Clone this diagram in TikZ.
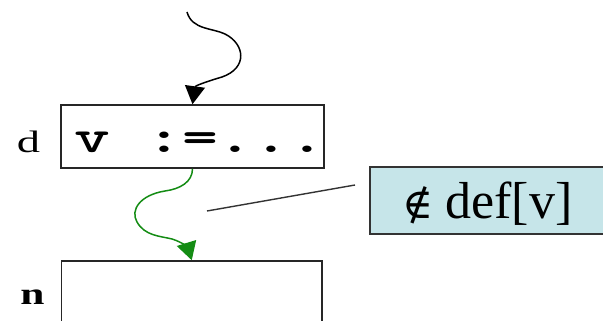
\documentclass[tikz,border=0pt]{standalone}
\usepackage{fontspec}
\setmainfont{Liberation Serif}
\newfontfamily\codefont{lmmonolt10-bold.otf}
\newfontfamily\symbfont{DejaVu Serif}
\usetikzlibrary{arrows.meta}
\definecolor{flowgreen}{RGB}{20,140,20}
\definecolor{noteblue}{RGB}{198,229,233}
\begin{document}
\begin{tikzpicture}[x=1pt,y=-1pt,
  box/.style={draw=black!85, line width=1.6pt, inner sep=0pt},
  flow/.style={line width=1.5pt, -{Triangle[length=18pt,width=20pt]}},
  lbl/.style={anchor=base, inner sep=0pt}]
\clip (0,0) rectangle (603,321);
\node[box, minimum width=263pt, minimum height=63pt] (d) at (192.5,136.5) {};
\node[box, minimum width=260.5pt, minimum height=100pt] (n) at (191.75,311) {};
\node[anchor=base west, inner sep=0pt] (dcode) at (74.5,152)
  {\scalebox{1.45}[1]{\fontsize{47}{47}\codefont v\ :=...}};
\node[lbl] (dlab) at (28.5,153) {\scalebox{1.5}[1]{\fontsize{31}{31}\selectfont d}};
\node[lbl] (nlab) at (32.5,304) {\scalebox{1.4}[1]{\fontsize{31}{31}\selectfont\bfseries n}};
\node[draw=black!80, fill=noteblue, line width=1.6pt, minimum width=260pt,
      minimum height=67pt, anchor=north west] (note) at (369,166) {};
\node[anchor=base west, inner sep=0pt] (notetext) at (402,218)
  {\fontsize{52}{52}\selectfont{\fontsize{42}{42}\symbfont ∉}\hspace{12pt}def[v]};
\coordinate (lineA) at (207,211);
\coordinate (lineB) at (355,185);
\draw[line width=1.4pt, black!80] (lineA) -- (lineB);
\coordinate (src) at (187,12);
\draw[flow] (src) .. controls (192,30) and (213,28) .. (225,34)
  .. controls (245,44) and (248,68) .. (222,77)
  .. controls (205,82) and (195,86) .. (d.north);
\draw[flow, flowgreen] (d.south) .. controls (192.5,182) and (180,189) .. (165,191)
  .. controls (140,195) and (130,210) .. (137,222)
  .. controls (145,236) and (160,236) .. (172,239)
  .. controls (182,242) and (188,248) .. (n.north);
\end{tikzpicture}
\end{document}
